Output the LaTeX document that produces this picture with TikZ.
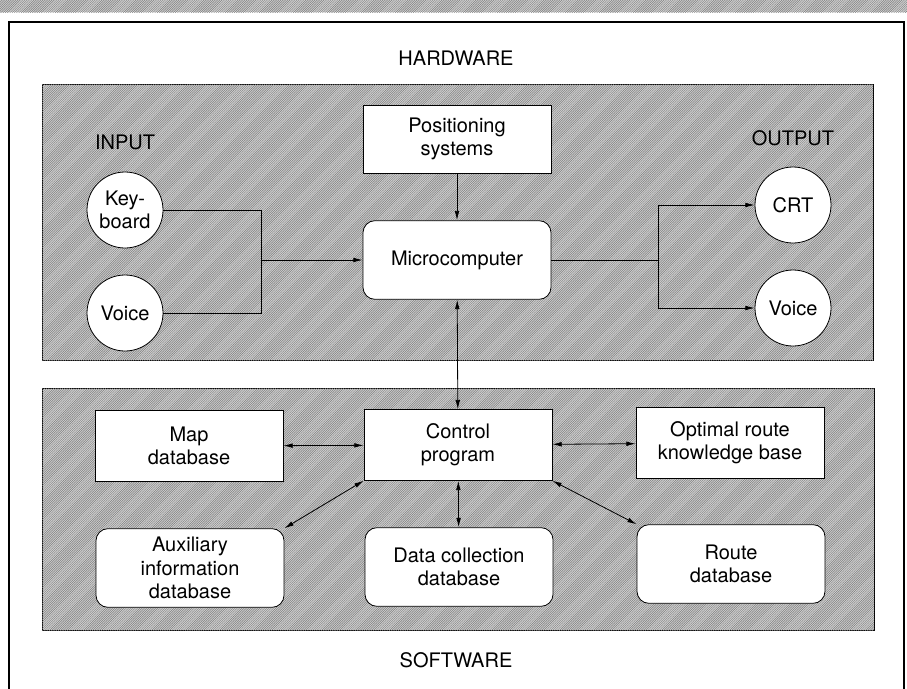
\documentclass[tikz,border=0pt]{standalone}
\usepackage{fontspec}
\setmainfont{TeX Gyre Heros}
\usetikzlibrary{arrows.meta,patterns,positioning,calc}
\pgfdeclarepatternformonly{fine lines}{\pgfqpoint{-1pt}{-1pt}}{\pgfqpoint{3pt}{3pt}}{\pgfqpoint{1.7pt}{1.7pt}}
{\pgfsetlinewidth{0.35pt}\pgfpathmoveto{\pgfqpoint{-0.1pt}{-0.1pt}}\pgfpathlineto{\pgfqpoint{1.8pt}{1.8pt}}\pgfusepath{stroke}}

\begin{document}
\begin{tikzpicture}
[x=0.75pt,y=-0.75pt,>={Latex[length=7pt,width=3.5pt]},
font=\fontsize{15}{17.5}\selectfont,line width=0.6pt,
hatch/.style={fill=gray!35,postaction={pattern=fine lines,pattern color=black!50}},
box/.style={draw,fill=white,align=center,minimum width=141pt,minimum height=53pt},
rbox/.style={box,rounded corners=9pt,minimum height=59pt},
dev/.style={circle,draw,fill=white,align=center,minimum size=57pt,inner sep=0pt}]
\useasboundingbox (0,0) rectangle (907,689);

% frame and panels
\fill[hatch] (0,0) rectangle (907,12);
\draw[line width=0.9pt] (9,689) -- (9,22) -- (904,22) -- (904,689);
\draw[hatch] (42,84) rectangle (873,360);
\draw[hatch] (42,388) rectangle (874,630);

\node (hw) at (456,58) {HARDWARE};
\node (sw) at (456,660) {SOFTWARE};
\node (inp) at (125,142) {INPUT};
\node (outp) at (793,138) {OUTPUT};

% hardware
\node (kb) at (125,210)[dev] {Key-\\board};
\node (vin) at (125,313)[dev] {Voice};
\node (crt) at (793,205)[dev] {CRT};
\node (vout) at (793,308)[dev] {Voice};
\node (pos) at (457,139)[box,minimum height=51pt] {Positioning\\systems};
\node (mc) at (457,260)[rbox] {Microcomputer};
\coordinate (jin) at (261,260);
\coordinate (jout) at (658,260);

\draw (kb) -| (jin);
\draw (vin) -| (jin);
\draw[->] (jin) -- (mc);
\draw (mc) -- (jout);
\draw[->] (jout) |- (crt);
\draw[->] (jout) |- (vout);
\draw[->] (pos) -- (mc);

% software
\node (map) at (189,446)[box] {Map\\database};
\node (ctl) at (458,445)[box] {Control\\program};
\node (opt) at (730,443)[box] {Optimal route\\knowledge base};
\node (aux) at (190,568)[rbox] {Auxiliary\\information\\database};
\node (dcol) at (459,567)[rbox] {Data collection\\database};
\node (rte) at (731,564)[rbox] {Route\\database};

\draw[<->] (mc) -- (ctl);
\draw[<->] (map) -- (ctl);
\draw[<->] (ctl) -- (opt);
\draw[<->] (ctl.south west) -- (aux.north east);
\draw[<->] (ctl) -- (dcol);
\draw[<->] (ctl.south east) -- (rte.north west);

\end{tikzpicture}
\end{document}
